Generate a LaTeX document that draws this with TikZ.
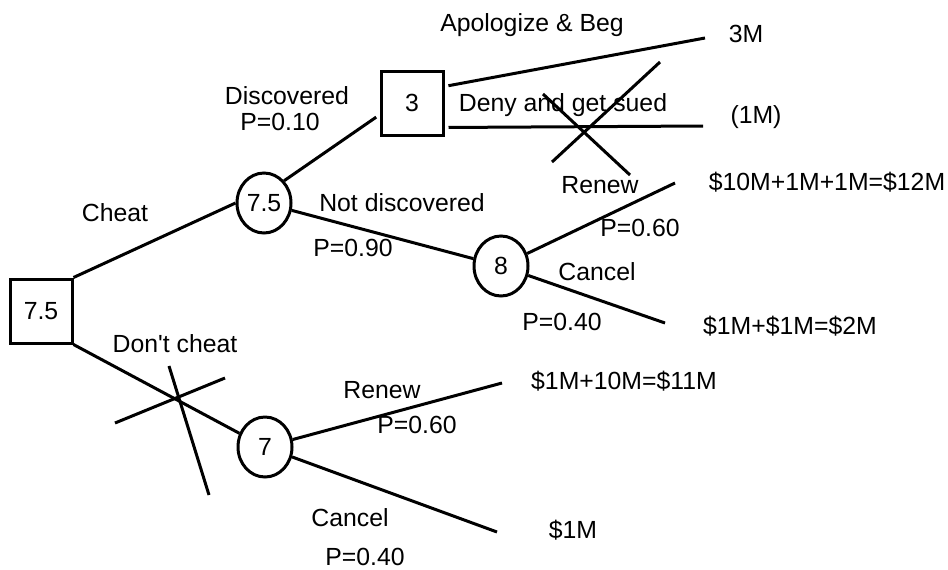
\documentclass[tikz,border=0pt]{standalone}
\usepackage{fontspec}
\setmainfont{Liberation Sans}
\usepackage{tikz}
\usetikzlibrary{shapes,arrows,positioning,calc}

\begin{document}
\begin{tikzpicture}[x=0.5pt, y=-0.5pt,
    decision/.style={rectangle, draw, line width=1.5pt, inner sep=0pt, minimum width=31pt, minimum height=32pt, font=\fontsize{12.4}{14}\selectfont},
    chance/.style={ellipse, draw, line width=1.5pt, inner sep=0pt, minimum width=27pt, minimum height=30pt, font=\fontsize{12.4}{14}\selectfont},
    lbl/.style={inner sep=0pt, font=\fontsize{12.4}{14}\selectfont},
    branch/.style={line width=1.5pt}]

    \useasboundingbox (0,0) rectangle (948,569);

    % Decision and chance nodes
    \node[decision] (root) at (41,311) {7.5};
    \node[chance] (cheat) at (264,203) {7.5};
    \node[decision] (caught) at (412,103) {3};
    \node[chance] (notcaught) at (501,266) {8};
    \node[chance] (honest) at (265,447) {7};

    % Branch ends
    \coordinate (apolEnd) at (705,38);
    \coordinate (denyEnd) at (703,126);
    \coordinate (renewA) at (675,183);
    \coordinate (cancelA) at (665,323);
    \coordinate (renewB) at (502,383);
    \coordinate (cancelB) at (497,532);

    % Payoffs
    \node[lbl] (payApol) at (746,34) {3M};
    \node[lbl] (payDeny) at (756,117) {(1M)};
    \node[lbl] (payRenewA) at (827,182) {\$10M+1M+1M=\$12M};
    \node[lbl] (payCancelA) at (790,326) {\$1M+\$1M=\$2M};
    \node[lbl] (payRenewB) at (624,381) {\$1M+10M=\$11M};
    \node[lbl] (payCancelB) at (573,530) {\$1M};

    % Branch labels
    \node[lbl] at (115,213) {Cheat};
    \node[lbl] at (175,344) {Don\textquotesingle t cheat};
    \node[lbl] at (287,96) {Discovered};
    \node[lbl] at (280,122) {P=0.10};
    \node[lbl] at (402,203) {Not discovered};
    \node[lbl] at (353,248) {P=0.90};
    \node[lbl] at (532,25) {Apologize \& Beg};
    \node[lbl] at (563,105) {Deny and get sued};
    \node[lbl] at (600,185) {Renew};
    \node[lbl] at (640,228) {P=0.60};
    \node[lbl] at (597,272) {Cancel};
    \node[lbl] at (562,322) {P=0.40};
    \node[lbl] at (382,390) {Renew};
    \node[lbl] at (417,425) {P=0.60};
    \node[lbl] at (350,518) {Cancel};
    \node[lbl] at (365,557) {P=0.40};

    % Branches
    \draw[branch] (root.north east) -- (cheat.west);
    \draw[branch] (root.south east) -- (honest);
    \draw[branch, shorten >=2pt] (cheat.north east) -- (caught.200);
    \draw[branch] (cheat) -- (notcaught);
    \draw[branch, shorten <=2pt] (caught.27) -- (apolEnd);
    \draw[branch, shorten <=2pt] (caught.-37) -- (denyEnd);
    \draw[branch] (notcaught) -- (renewA);
    \draw[branch] (notcaught) -- (cancelA);
    \draw[branch] (honest) -- (renewB);
    \draw[branch] (honest) -- (cancelB);

    % Crossed-out options
    \coordinate (xA1) at (552,162); \coordinate (xA2) at (660,62);
    \coordinate (xA3) at (543,94);  \coordinate (xA4) at (630,175);
    \draw[branch] (xA1) -- (xA2);
    \draw[branch] (xA3) -- (xA4);
    \coordinate (xB1) at (115,423); \coordinate (xB2) at (225,378);
    \coordinate (xB3) at (169,366); \coordinate (xB4) at (209,495);
    \draw[branch] (xB1) -- (xB2);
    \draw[branch] (xB3) -- (xB4);

\end{tikzpicture}
\end{document}
